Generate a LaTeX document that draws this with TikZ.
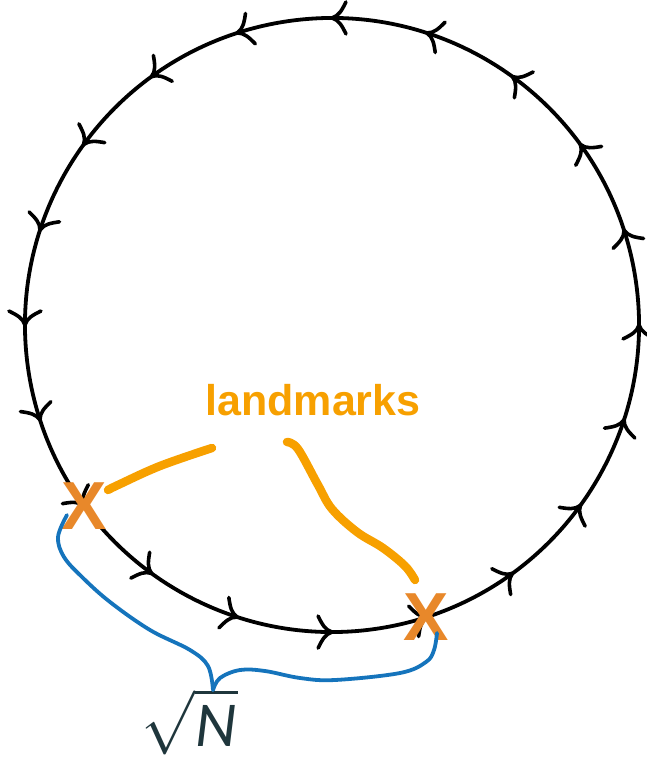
\documentclass[tikz,border=0pt]{standalone}
\usepackage{fontspec}
\usepackage{unicode-math}
\setmathfont{Latin Modern Math}
\usetikzlibrary{decorations.markings}
\newfontfamily\markfont{Liberation Sans}
\newfontfamily\handfont{Liberation Sans}
\newfontfamily\rootfont{Carlito}
\definecolor{xorange}{HTML}{E8882A}
\definecolor{handorange}{HTML}{F7A000}
\definecolor{braceblue}{HTML}{1574BC}
\definecolor{slate}{HTML}{1F363C}

\begin{document}
\begin{tikzpicture}[x=1pt,y=-1pt,
  barb/.style={line width=3.6pt, line cap=round},
  ring/.style={line width=3.8pt,
    postaction={decorate},
    decoration={markings,
      mark=between positions 0.025 and 0.99 step 0.05 with
        {\draw[barb] (-14,-16) .. controls (-10,-8) and (-7,-2) .. (0,0)
                     .. controls (-7,2) and (-10,8) .. (-14,16);}}},
  xmark/.style={text=xorange, inner sep=0pt,
    font=\markfont\bfseries\fontsize{68}{68}\selectfont},
  handtext/.style={text=handorange, inner sep=0pt,
    font=\handfont\bfseries\fontsize{43}{43}\selectfont},
  pointer/.style={draw=handorange, line width=8.5pt, line cap=round, line join=round},
  brace/.style={draw=braceblue, line width=3.8pt, line cap=round, line join=round},
]
\useasboundingbox (0,0) rectangle (646,759);

% ring of nodes, walked counterclockwise
\coordinate (c) at (332,325);
\draw[ring] (c) ++(-9:307) arc[start angle=-9, end angle=-369, radius=307];

% landmarks on the ring
\node[xmark] (lmA) at (84,506) {X};
\node[xmark] (lmB) at (426,617) {X};

% label and its hand-drawn pointers
\node[handtext, anchor=base] (lbl) at (313,415) {landmarks};
\draw[pointer] plot[smooth, tension=0.6] coordinates {(108,490) (118,485) (160,466) (212,448)};
\draw[pointer] plot[smooth, tension=0.6] coordinates
  {(287,442) (298,449) (318,485) (332,509) (357,532) (383,548) (405,566) (415,580)};

% brace between the two landmarks
\node[text=slate, inner sep=0pt, font=\fontsize{64}{64}\selectfont] (dist) at (190,722)
  {$\sqrt{\mbox{\rootfont\itshape N\kern2pt}}$};
\coordinate (tip) at (213,690);
\draw[brace] plot[smooth, tension=0.6] coordinates
  {(67,515) (58,537) (64,557) (82,577) (110,602) (150,630) (190,650) (208,666) (tip)};
\draw[brace] plot[smooth, tension=0.6] coordinates
  {(tip) (220,678) (240,670) (265,671) (300,678) (335,680) (400,673) (426,662) (434,650) (437,633)};
\end{tikzpicture}
\end{document}
